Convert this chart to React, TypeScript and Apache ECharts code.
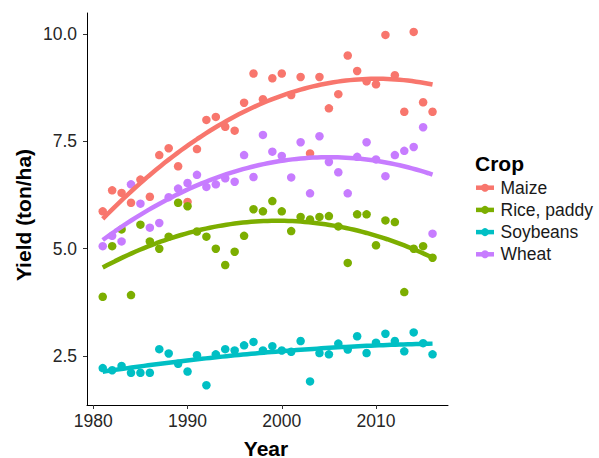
import React, { useEffect, useRef } from "react";
import * as echarts from "echarts";

const years: number[] = [
  1981, 1982, 1983, 1984, 1985, 1986, 1987, 1988, 1989, 1990, 1991, 1992,
  1993, 1994, 1995, 1996, 1997, 1998, 1999, 2000, 2001, 2002, 2003, 2004,
  2005, 2006, 2007, 2008, 2009, 2010, 2011, 2012, 2013, 2014, 2015, 2016,
];

const maize: number[] = [
  5.87, 6.36, 6.3, 6.07, 6.61, 6.21, 7.18, 7.34, 6.92, 6.09, 7.32, 8.0,
  8.07, 7.84, 7.75, 8.4, 9.08, 8.48, 8.97, 9.08, 8.58, 9.0, 7.22, 9.0,
  8.27, 8.6, 9.5, 9.14, 8.9, 8.83, 9.98, 9.04, 8.19, 10.05, 8.41, 8.19,
];

const rice: number[] = [
  3.88, 5.06, 5.45, 3.92, 5.56, 5.17, 5.0, 5.28, 6.07, 5.99, 5.4, 5.28,
  5.0, 4.62, 4.93, 5.3, 5.92, 5.87, 6.11, 5.87, 5.41, 5.74, 5.68, 5.74,
  5.76, 5.52, 4.67, 5.8, 5.8, 5.08, 5.66, 5.62, 3.99, 5.0, 5.06, 4.79,
];

const soybeans: number[] = [
  2.22, 2.17, 2.27, 2.11, 2.11, 2.11, 2.66, 2.56, 2.32, 2.14, 2.52, 1.82,
  2.54, 2.66, 2.63, 2.75, 2.83, 2.63, 2.73, 2.63, 2.6, 2.85, 1.91, 2.57,
  2.54, 2.79, 2.65, 2.96, 2.57, 2.81, 3.02, 2.85, 2.61, 3.05, 2.8, 2.54,
];

const wheat: number[] = [
  5.06, 5.3, 5.17, 6.5, 6.05, 5.49, 5.6, 6.2, 6.4, 6.53, 6.72, 6.44,
  6.5, 6.64, 6.56, 7.18, 6.67, 7.65, 7.26, 7.16, 6.66, 7.48, 6.29, 7.62,
  7.02, 6.78, 6.29, 7.14, 7.48, 7.08, 6.69, 7.18, 7.28, 7.37, 7.83, 5.35,
];

const cropNames: string[] = ["Maize", "Rice, paddy", "Soybeans", "Wheat"];
const cropColors: string[] = ["#F8766D", "#7CAE00", "#00BFC4", "#C77CFF"];
const xTicks: number[] = [1980, 1990, 2000, 2010];
const yTicks: number[] = [2.5, 5.0, 7.5, 10.0];

// quadratic least-squares trend (y ~ poly(x, 2)) fitted to the data
function quadFit(xs: number[], ys: number[]): (x: number) => number {
  const n = xs.length;
  const mx = xs.reduce((a, b) => a + b, 0) / n;
  let s0 = 0, s1 = 0, s2 = 0, s3 = 0, s4 = 0, t0 = 0, t1 = 0, t2 = 0;
  for (let i = 0; i < n; i++) {
    const d = xs[i] - mx;
    s0 += 1; s1 += d; s2 += d * d; s3 += d * d * d; s4 += d * d * d * d;
    t0 += ys[i]; t1 += d * ys[i]; t2 += d * d * ys[i];
  }
  const A = [
    [s0, s1, s2, t0],
    [s1, s2, s3, t1],
    [s2, s3, s4, t2],
  ];
  for (let c = 0; c < 3; c++) {
    let p = c;
    for (let r = c + 1; r < 3; r++) if (Math.abs(A[r][c]) > Math.abs(A[p][c])) p = r;
    [A[c], A[p]] = [A[p], A[c]];
    for (let r = 0; r < 3; r++) {
      if (r === c) continue;
      const f = A[r][c] / A[c][c];
      for (let k = c; k < 4; k++) A[r][k] -= f * A[c][k];
    }
  }
  const b0 = A[0][3] / A[0][0];
  const b1 = A[1][3] / A[1][1];
  const b2 = A[2][3] / A[2][2];
  return (x: number) => {
    const d = x - mx;
    return b0 + b1 * d + b2 * d * d;
  };
}

function smoothLine(xs: number[], ys: number[]): number[][] {
  const f = quadFit(xs, ys);
  const out: number[][] = [];
  const lo = xs[0];
  const hi = xs[xs.length - 1];
  const steps = 80;
  for (let i = 0; i <= steps; i++) {
    const x = lo + ((hi - lo) * i) / steps;
    out.push([x, f(x)]);
  }
  return out;
}

export default function App() {
  const ref = useRef<HTMLDivElement>(null);

  useEffect(() => {
    document.body.style.margin = "0";
    if (!ref.current) return;
    const chart = echarts.init(ref.current, undefined, { renderer: "svg" });
    const allSeries = [maize, rice, soybeans, wheat];
    const series: any[] = [];
    allSeries.forEach((vals, i) => {
      series.push({
        type: "scatter",
        name: cropNames[i],
        data: years.map((y, j) => [y, vals[j]]),
        symbol: "circle",
        symbolSize: 8.5,
        itemStyle: { color: cropColors[i], opacity: 1 },
        z: 2,
      });
    });
    allSeries.forEach((vals, i) => {
      series.push({
        type: "line",
        name: cropNames[i] + " smooth",
        data: smoothLine(years, vals),
        showSymbol: false,
        symbol: "none",
        lineStyle: { color: cropColors[i], width: 4.5 },
        z: 3,
      });
    });

    const font = "Liberation Sans, Arial, sans-serif";
    const legendTop = 187.7;
    const legendStep = 22.2;
    const g: any[] = [
      {
        type: "text",
        x: 475,
        y: 163,
        style: {
          text: "Crop",
          font: `bold 21px ${font}`,
          fill: "#000",
          verticalAlign: "middle",
          align: "left",
        },
      },
    ];
    cropNames.forEach((name, i) => {
      const cy = legendTop + i * legendStep;
      g.push({
        type: "rect",
        shape: { x: 476, y: cy - 2.25, width: 18, height: 4.5 },
        style: { fill: cropColors[i] },
      });
      g.push({
        type: "circle",
        shape: { cx: 485, cy, r: 4 },
        style: { fill: cropColors[i] },
      });
      g.push({
        type: "text",
        x: 500.5,
        y: cy,
        style: {
          text: name,
          font: `17.5px ${font}`,
          fill: "#1a1a1a",
          verticalAlign: "middle",
          align: "left",
        },
      });
    });
    g.push({
      type: "text",
      x: 266,
      y: 448,
      style: {
        text: "Year",
        font: `bold 21px ${font}`,
        fill: "#000",
        align: "center",
        verticalAlign: "middle",
      },
    });
    g.push({
      type: "text",
      x: 23,
      y: 215,
      rotation: Math.PI / 2,
      style: {
        text: "Yield (ton/ha)",
        font: `bold 21px ${font}`,
        fill: "#000",
        align: "center",
        verticalAlign: "middle",
      },
    });

    chart.setOption({
      animation: false,
      backgroundColor: "#fff",
      grid: { left: 87, top: 13, width: 361, height: 392, containLabel: false },
      xAxis: {
        type: "value",
        min: 1979.33,
        max: 2017.64,
        splitLine: { show: false },
        axisLine: { show: true, lineStyle: { color: "#000", width: 1 } },
        axisTick: {
          show: true,
          length: 4,
          lineStyle: { color: "#333" },
          customValues: xTicks,
        },
        axisLabel: {
          customValues: xTicks,
          color: "#262626",
          fontSize: 17.5,
          fontFamily: font,
          margin: 7,
          formatter: (v: number) => String(v),
        },
      },
      yAxis: {
        type: "value",
        min: 1.36,
        max: 10.49,
        splitLine: { show: false },
        axisLine: { show: true, lineStyle: { color: "#000", width: 1 } },
        axisTick: {
          show: true,
          length: 4,
          lineStyle: { color: "#333" },
          customValues: yTicks,
        },
        axisLabel: {
          customValues: yTicks,
          color: "#262626",
          fontSize: 17.5,
          fontFamily: font,
          margin: 10,
          formatter: (v: number) => v.toFixed(1),
        },
      },
      graphic: g,
      series,
    });
    return () => chart.dispose();
  }, []);

  return <div ref={ref} style={{ width: 599, height: 458 }} />;
}
